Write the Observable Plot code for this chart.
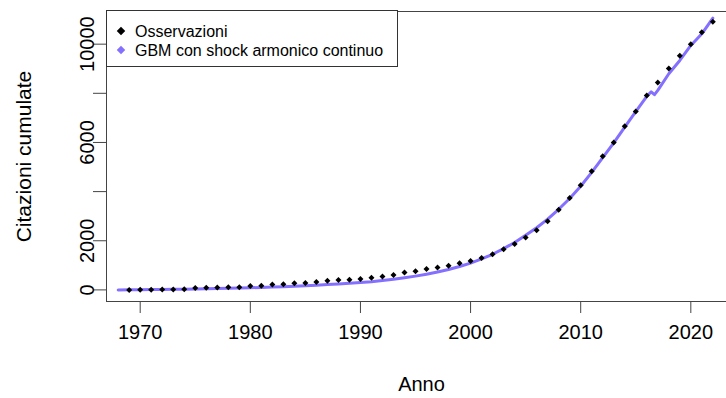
<!DOCTYPE html>
<html>
<head>
<meta charset="utf-8">
<script src="https://cdn.jsdelivr.net/npm/d3@7"></script>
<script src="https://cdn.jsdelivr.net/npm/@observablehq/plot@0.6"></script>
<style>
  html, body { margin: 0; padding: 0; background: #fff; }
  #chart { position: relative; width: 726px; height: 398px; font-family: "Liberation Sans", Arial, sans-serif; }
  .legend { position: absolute; left: 106px; top: 10px; width: 292px; height: 57px;
            border: 1px solid #333; background: #fff; box-sizing: border-box; font-size: 16px; color: #000; }
  .legend .row { position: absolute; left: 0; height: 18px; line-height: 18px; white-space: nowrap; }
  .legend .key { position: absolute; left: 11px; top: 5px; width: 6px; height: 6px; transform: rotate(45deg); }
  .legend .lab { position: absolute; left: 28px; top: 0; }
</style>
</head>
<body>
<div id="chart"></div>
<script>
// Observed cumulative citations, one value per year
const obsYears = d3.range(1969, 2023);
const obsValues = [
  0, 5, 10, 15, 20, 25, 80, 90, 100, 105,
  110, 160, 170, 220, 230, 270, 280, 320, 370, 400,
  410, 447, 490, 550, 605, 707, 755, 850, 911, 980,
  1085, 1175, 1295, 1450, 1654, 1870, 2130, 2430, 2790, 3260,
  3740, 4256, 4825, 5435, 6000, 6660, 7264, 7910, 8440, 9010,
  9528, 10000, 10488, 10911
];

// Fitted GBM trajectory with continuous harmonic shock
const modelYears = [
  1968, 1969, 1970, 1971, 1972, 1973, 1974, 1975, 1976, 1977,
  1978, 1979, 1980, 1981, 1982, 1983, 1984, 1985, 1986, 1987,
  1988, 1989, 1990, 1991, 1992, 1993, 1994, 1995, 1996, 1997,
  1998, 1999, 2000, 2001, 2002, 2003, 2004, 2005, 2006, 2007,
  2008, 2009, 2010, 2011, 2012, 2013, 2014, 2015, 2016, 2016.4,
  2016.7, 2017, 2018, 2019, 2020, 2021, 2022
];
const modelValues = [
  0, 5, 10, 15, 20, 25, 30, 38, 45, 55,
  65, 75, 88, 100, 115, 130, 148, 168, 190, 215,
  240, 268, 300, 335, 380, 430, 490, 560, 640, 730,
  830, 950, 1090, 1260, 1450, 1680, 1930, 2220, 2530, 2880,
  3280, 3720, 4220, 4780, 5380, 5980, 6620, 7250, 7880, 8060,
  7943, 8118, 8797, 9337, 9947, 10423, 11057
];

// Axis ticks and labels
const xTicks = [1970, 1980, 1990, 2000, 2010, 2020];
const yTicks = [0, 2000, 4000, 6000, 8000, 10000];
const yLabels = [0, 2000, 6000, 10000];

const seriesNames = ["Osservazioni", "GBM con shock armonico continuo"];
const seriesColors = ["#000000", "#8470ff"];
const xTitle = "Anno";
const yTitle = "Citazioni cumulate";

const observed = obsYears.map((x, i) => ({x, y: obsValues[i]}));
const model = modelYears.map((x, i) => ({x, y: modelValues[i]}));

const xDomain = [1966.94, 2023.24];
const yDomain = [-472, 11329];
const axisColor = "#444";

const plot = Plot.plot({
  width: 726,
  height: 398,
  marginLeft: 106,
  marginRight: 0,
  marginTop: 11,
  marginBottom: 97,
  style: {fontFamily: "'Liberation Sans', Arial, sans-serif", fontSize: "20px", color: "#000", background: "#fff"},
  x: {domain: xDomain},
  y: {domain: yDomain},
  marks: [
    // plot box (left, bottom, top; right edge lies beyond the canvas)
    Plot.ruleX([xDomain[0]], {stroke: axisColor}),
    Plot.ruleY([yDomain[0], yDomain[1]], {stroke: axisColor}),
    Plot.axisX({ticks: xTicks, tickSize: 12, tickPadding: 11, tickFormat: d => String(d),
                stroke: axisColor, fill: "#000", label: null}),
    Plot.axisY({ticks: yTicks, tickSize: 13, tickFormat: () => "", stroke: axisColor, label: null}),
    Plot.text(yLabels, {y: d => d, frameAnchor: "left", dx: -19, rotate: -90,
                        text: d => String(d), textAnchor: "middle", lineAnchor: "middle", fill: "#000"}),
    Plot.text([xTitle], {frameAnchor: "bottom", dx: 5, dy: 83, textAnchor: "middle", lineAnchor: "middle", fill: "#000"}),
    Plot.text([yTitle], {frameAnchor: "left", dx: -82, rotate: -90, textAnchor: "middle", lineAnchor: "middle",
                         fontSize: 21, fill: "#000"}),
    Plot.line(model, {x: "x", y: "y", stroke: seriesColors[1], strokeWidth: 3, curve: "linear"}),
    Plot.dot(observed, {x: "x", y: "y", symbol: "diamond2", r: 2.7, fill: seriesColors[0], stroke: null})
  ]
});

const chart = document.getElementById("chart");
chart.appendChild(plot);

// Legend box in the top-left corner of the panel
const legend = document.createElement("div");
legend.className = "legend";
seriesNames.forEach((name, i) => {
  const row = document.createElement("div");
  row.className = "row";
  row.style.top = (i === 0 ? 12 : 31) + "px";
  const key = document.createElement("span");
  key.className = "key";
  key.style.background = seriesColors[i];
  const lab = document.createElement("span");
  lab.className = "lab";
  lab.textContent = name;
  row.appendChild(key);
  row.appendChild(lab);
  legend.appendChild(row);
});
chart.appendChild(legend);
</script>
</body>
</html>
